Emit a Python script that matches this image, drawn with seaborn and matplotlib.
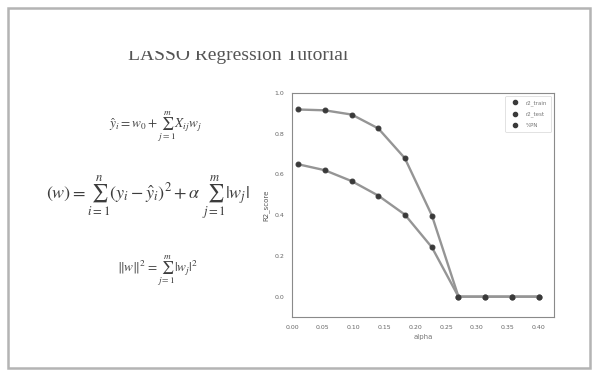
import pandas as pd
import seaborn as sns
import matplotlib.pyplot as plt
from matplotlib.lines import Line2D
from matplotlib.patches import Rectangle

# ---------- DATA ----------
alpha = [0.01, 0.053, 0.097, 0.14, 0.183, 0.227, 0.27, 0.313, 0.357, 0.40]
r2_train = [0.919, 0.915, 0.894, 0.826, 0.680, 0.398, 0.0, 0.0, 0.0, 0.0]
r2_test = [0.650, 0.621, 0.567, 0.496, 0.403, 0.242, 0.0, 0.0, 0.0, 0.0]
legend_labels = ["r2_train", "r2_test", "%PN"]
x_ticks = [0.00, 0.05, 0.10, 0.15, 0.20, 0.25, 0.30, 0.35, 0.40]
y_ticks = [0.0, 0.2, 0.4, 0.6, 0.8, 1.0]

df = pd.DataFrame({
    "alpha": alpha * 2,
    "score": r2_train + r2_test,
    "series": [legend_labels[0]] * len(alpha) + [legend_labels[1]] * len(alpha),
})

# ---------- FIGURE ----------
sns.set_style("white")
plt.rcParams["mathtext.fontset"] = "stix"

W, H = 593, 374
fig = plt.figure(figsize=(W / 100, H / 100), dpi=100)
fig.patch.set_facecolor("white")

# slide frame
fig.patches.append(Rectangle((8 / W, 1 - 368 / H), 582 / W, 360 / H,
                             transform=fig.transFigure, fill=False,
                             edgecolor="#b4b4b4", linewidth=1.8, zorder=0))

# title (top of it is clipped on the slide)
fig.text(238 / W, 1 - 56 / H, "LASSO Regression Tutorial", ha="center", va="center",
         fontsize=14, family="Liberation Serif", color="#555555", zorder=1)
fig.patches.append(Rectangle((110 / W, 1 - 50.5 / H), 260 / W, 30 / H,
                             transform=fig.transFigure, facecolor="white",
                             edgecolor="none", zorder=2))

# equations
eq_color = "#3c3c3c"
fig.text(155 / W, 1 - 127 / H, r"$\hat{y}_i = w_0 + \sum_{j=1}^{m} X_{ij} w_j$",
         ha="center", va="center", fontsize=9.5, color=eq_color)
fig.text(148 / W, 1 - 197 / H,
         r"$(w) = \sum_{i=1}^{n}(y_i - \hat{y}_i)^2 + \alpha\ \sum_{j=1}^{m}|w_j|$",
         ha="center", va="center", fontsize=13, color=eq_color)
fig.text(158 / W, 1 - 271 / H, r"$\|w\|^2 = \sum_{j=1}^{m}|w_j|^2$",
         ha="center", va="center", fontsize=9.5, color=eq_color)

# ---------- PLOT ----------
ax = fig.add_axes([292 / W, 1 - 317 / H, 262 / W, 224 / H])
sns.lineplot(data=df, x="alpha", y="score", hue="series",
             palette=["#959595", "#959595"], marker="o", markersize=3.5,
             markerfacecolor="#3a3a3a", markeredgecolor="#3a3a3a",
             linewidth=1.7, legend=False, ax=ax)

ax.set_xlim(0, 0.425)
ax.set_ylim(-0.1, 1.0)
ax.set_xticks(x_ticks)
ax.set_xticklabels([f"{t:.2f}" for t in x_ticks])
ax.set_yticks(y_ticks)
ax.set_yticklabels([f"{t:.1f}" for t in y_ticks])
ax.tick_params(labelsize=4.5, colors="#666666", length=2, width=0.6)
for s in ax.spines.values():
    s.set_color("#8a8a8a")
    s.set_linewidth(0.8)
ax.set_xlabel("alpha", fontsize=5, color="#777777", labelpad=3)
ax.set_ylabel("R2_score", fontsize=5, color="#555555", labelpad=4)

handles = [Line2D([], [], linestyle="none", marker="o", markersize=3,
                  color="#3a3a3a") for _ in legend_labels]
leg = ax.legend(handles, legend_labels, loc="upper right", fontsize=4,
                frameon=True, handletextpad=0.8, borderpad=0.8, labelspacing=1.0)
leg.get_frame().set_edgecolor("#cccccc")
leg.get_frame().set_linewidth(0.5)
for t in leg.get_texts():
    t.set_color("#777777")

fig.savefig("out.png", dpi=100)
